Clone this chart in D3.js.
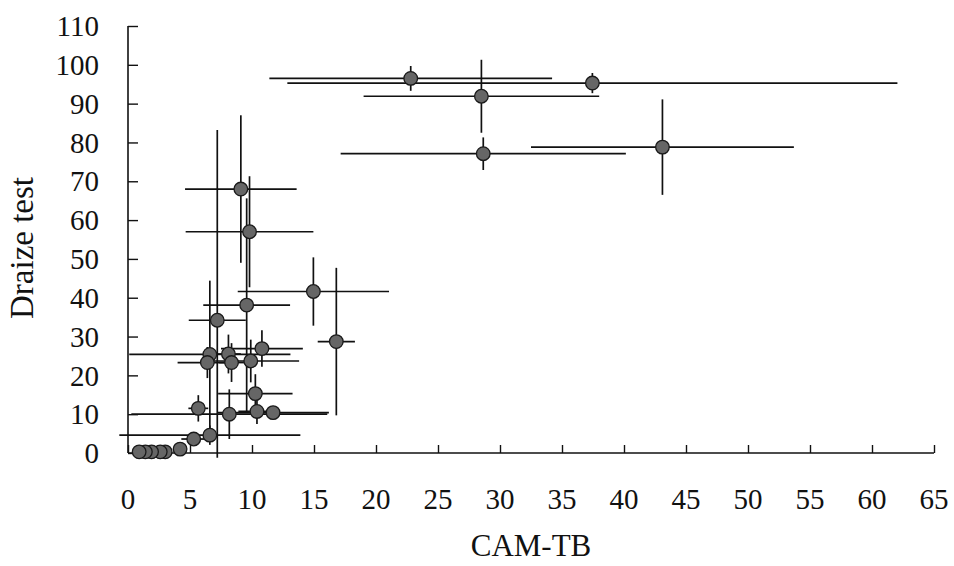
<!DOCTYPE html>
<html>
<head>
<meta charset="utf-8">
<script src="https://cdn.jsdelivr.net/npm/d3@7"></script>
<style>
  body { margin: 0; background: #fff; }
  text { font-family: "Liberation Serif", "Times New Roman", serif; fill: #111; }
</style>
</head>
<body>
<div id="chart"></div>
<script>
// CAM-TB score (x) vs Draize test score (y), with error bars
var camtb   = [22.8, 37.45, 28.5, 28.65, 43.1, 9.1, 9.8, 14.95, 9.57, 7.2, 16.8, 10.8, 6.6, 6.4, 8.1, 8.35, 9.9, 10.27, 5.67, 8.17, 10.4, 11.7, 6.6, 5.3, 4.2, 3.0, 2.6, 1.9, 1.4, 0.9];
var draize  = [96.5, 95.3, 91.9, 77.1, 78.8, 68.0, 57.0, 41.6, 38.1, 34.2, 28.7, 26.9, 25.4, 23.3, 25.5, 23.3, 23.7, 15.3, 11.5, 10.0, 10.7, 10.4, 4.6, 3.6, 1.0, 0.3, 0.3, 0.3, 0.3, 0.3];
var camErr  = [11.4, 24.6, 9.5, 11.5, 10.6, 4.5, 5.15, 6.1, 3.5, 2.3, 1.5, 3.3, 6.5, 2.4, 1.0, 1.0, 3.9, 3.0, 0.8, 7.9, 1.5, 4.5, 7.3, 1.0, 0.5, 0, 0, 0, 0, 0];
var draizeErr = [3.2, 2.6, 9.4, 4.2, 12.3, 19.0, 14.3, 8.8, 27.5, 49, 19, 4.7, 19, 4, 5, 5, 5.5, 5, 3.4, 6.4, 3.2, 1.5, 2.5, 1.5, 0.5, 0, 0, 0, 0, 0];

var xTicks = d3.range(0, 66, 5);
var yTicks = d3.range(0, 111, 10);

var data = camtb.map(function(d, i) {
  return {x: d, y: draize[i], ex: camErr[i], ey: draizeErr[i]};
});

var width = 954, height = 566;

var x = d3.scaleLinear().domain([0, 65]).range([128, 934]);
var y = d3.scaleLinear().domain([0, 110]).range([453, 26]);

var svg = d3.select("#chart")
.append("svg")
.attr("width", width)
.attr("height", height);

// y axis
var yAxis = d3.axisRight(y).tickValues(yTicks).tickSize(10).tickFormat("");
svg.append("g")
.attr("transform", "translate(" + x(0) + ",0)")
.call(yAxis)
.call(function(g) {
  g.select(".domain").attr("stroke", "#111").attr("stroke-width", 1.6).attr("d", "M0," + y(110) + "V" + y(0));
  g.selectAll(".tick line").attr("stroke", "#111").attr("stroke-width", 1.4);
});

svg.append("g")
.selectAll("text")
.data(yTicks)
.enter().append("text")
.attr("x", 99)
.attr("y", function(d) { return y(d); })
.attr("dy", "0.35em")
.attr("text-anchor", "end")
.attr("font-size", 29)
.text(function(d) { return d; });

// x axis
var xAxis = d3.axisTop(x).tickValues(xTicks).tickSize(8).tickFormat("");
svg.append("g")
.attr("transform", "translate(0," + y(0) + ")")
.call(xAxis)
.call(function(g) {
  g.select(".domain").attr("stroke", "#111").attr("stroke-width", 1.6).attr("d", "M" + x(0) + ",0H" + x(65));
  g.selectAll(".tick line").attr("stroke", "#111").attr("stroke-width", 1.4);
});

svg.append("g")
.selectAll("text")
.data(xTicks)
.enter().append("text")
.attr("x", function(d) { return x(d); })
.attr("y", 509)
.attr("text-anchor", "middle")
.attr("font-size", 29)
.text(function(d) { return d; });

// axis titles
svg.append("text")
.attr("transform", "translate(33,248) rotate(-90)")
.attr("text-anchor", "middle")
.attr("font-size", 33)
.text("Draize test");

svg.append("text")
.attr("x", 531)
.attr("y", 556)
.attr("text-anchor", "middle")
.attr("font-size", 31)
.text("CAM-TB");

// error bars
var bars = svg.append("g")
.attr("stroke", "#111")
.attr("stroke-width", 1.7);

bars.selectAll("line.h")
.data(data.filter(function(d) { return d.ex > 0; }))
.enter().append("line")
.attr("class", "h")
.attr("x1", function(d) { return x(d.x - d.ex); })
.attr("x2", function(d) { return x(d.x + d.ex); })
.attr("y1", function(d) { return y(d.y); })
.attr("y2", function(d) { return y(d.y); });

bars.selectAll("line.v")
.data(data.filter(function(d) { return d.ey > 0; }))
.enter().append("line")
.attr("class", "v")
.attr("x1", function(d) { return x(d.x); })
.attr("x2", function(d) { return x(d.x); })
.attr("y1", function(d) { return y(Math.max(-1.2, d.y - d.ey)); })
.attr("y2", function(d) { return y(d.y + d.ey); });

// points
svg.append("g")
.selectAll("circle")
.data(data)
.enter().append("circle")
.attr("cx", function(d) { return x(d.x); })
.attr("cy", function(d) { return y(d.y); })
.attr("r", 6.8)
.attr("fill", "#666")
.attr("stroke", "#1a1a1a")
.attr("stroke-width", 1.3);
</script>
</body>
</html>
